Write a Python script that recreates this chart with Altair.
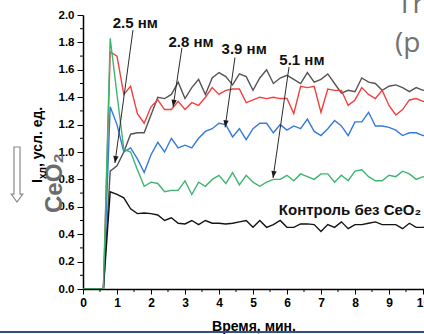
import math
import altair as alt
import pandas as pd

# ---------------- data ----------------
minutes = [0.0, 0.2, 0.4, 0.6, 0.8, 1.0, 1.2, 1.4, 1.6, 1.8,
           2.0, 2.2, 2.4, 2.6, 2.8, 3.0, 3.2, 3.4, 3.6, 3.8,
           4.0, 4.2, 4.4, 4.6, 4.8, 5.0, 5.2, 5.4, 5.6, 5.8,
           6.0, 6.2, 6.4, 6.6, 6.8, 7.0, 7.2, 7.4, 7.6, 7.8,
           8.0, 8.2, 8.4, 8.6, 8.8, 9.0, 9.2, 9.4, 9.6, 9.8,
           10.0, 10.2]

nm25 = [0, 0, 0, 0, 0.86, 0.90, 1.00, 1.13, 1.14, 1.14,
        1.27, 1.40, 1.39, 1.42, 1.51, 1.39, 1.47, 1.53, 1.42, 1.54,
        1.58, 1.55, 1.49, 1.57, 1.55, 1.45, 1.54, 1.60, 1.50, 1.54,
        1.56, 1.53, 1.50, 1.58, 1.51, 1.53, 1.57, 1.50, 1.43, 1.45,
        1.44, 1.54, 1.51, 1.50, 1.45, 1.48, 1.49, 1.47, 1.44, 1.47,
        1.45, 1.46]

nm28 = [0, 0, 0, 0, 1.73, 1.70, 1.42, 1.48, 1.28, 1.21,
        1.33, 1.38, 1.31, 1.31, 1.37, 1.31, 1.36, 1.34, 1.40, 1.47,
        1.42, 1.45, 1.46, 1.46, 1.36, 1.38, 1.40, 1.39, 1.40, 1.39,
        1.39, 1.28, 1.48, 1.47, 1.48, 1.29, 1.46, 1.45, 1.45, 1.34,
        1.38, 1.47, 1.42, 1.39, 1.45, 1.34, 1.27, 1.31, 1.38, 1.39,
        1.37, 1.36]

nm39 = [0, 0, 0, 0, 1.33, 1.20, 1.00, 1.03, 0.95, 0.85,
        0.98, 1.07, 1.00, 1.10, 1.03, 1.05, 1.03, 1.10, 1.15, 1.17,
        1.21, 1.20, 1.11, 1.17, 1.09, 1.17, 1.21, 1.21, 1.14, 1.20,
        1.16, 1.19, 1.17, 1.24, 1.15, 1.12, 1.17, 1.23, 1.19, 1.12,
        1.22, 1.22, 1.29, 1.19, 1.19, 1.18, 1.16, 1.12, 1.14, 1.14,
        1.12, 1.12]

control = [0, 0, 0, 0, 0.71, 0.69, 0.665, 0.585, 0.55, 0.555,
           0.55, 0.54, 0.50, 0.52, 0.48, 0.475, 0.50, 0.47, 0.50, 0.48,
           0.48, 0.475, 0.48, 0.49, 0.50, 0.45, 0.50, 0.45, 0.47, 0.50,
           0.45, 0.45, 0.475, 0.475, 0.47, 0.42, 0.47, 0.45, 0.49, 0.44,
           0.47, 0.47, 0.48, 0.49, 0.47, 0.47, 0.47, 0.44, 0.48, 0.45,
           0.45, 0.46]

nm51 = [0, 0, 0, 0, 1.83, 1.42, 1.02, 1.00, 0.87, 0.75,
        0.78, 0.77, 0.71, 0.72, 0.72, 0.79, 0.69, 0.78, 0.75, 0.80,
        0.83, 0.77, 0.85, 0.76, 0.83, 0.78, 0.75, 0.78, 0.80, 0.80,
        0.83, 0.79, 0.84, 0.82, 0.80, 0.84, 0.84, 0.78, 0.83, 0.79,
        0.86, 0.87, 0.82, 0.79, 0.79, 0.83, 0.82, 0.86, 0.84, 0.80,
        0.82, 0.81]

series_values = [nm25, nm28, nm39, control, nm51]
series_colors = ["#545454", "#f2403f", "#3479dc", "#141414", "#3db56f"]

x_ticks = [0, 1, 2, 3, 4, 5, 6, 7, 8, 9, 10]
x_minor = [0.5, 1.5, 2.5, 3.5, 4.5, 5.5, 6.5, 7.5, 8.5, 9.5]
y_ticks = [0.0, 0.2, 0.4, 0.6, 0.8, 1.0, 1.2, 1.4, 1.6, 1.8, 2.0]
y_minor = [0.1, 0.3, 0.5, 0.7, 0.9, 1.1, 1.3, 1.5, 1.7, 1.9]

label_texts = ["2.5 нм", "2.8 нм", "3.9 нм", "5.1 нм"]
label_t = [1.54, 3.18, 4.74, 6.44]
label_v = [1.94, 1.80, 1.75, 1.67]

arrow_t1 = [1.47, 2.91, 4.47, 6.06]
arrow_v1 = [1.89, 1.76, 1.69, 1.62]
arrow_t2 = [0.94, 2.65, 4.18, 5.59]
arrow_v2 = [0.92, 1.33, 1.18, 0.81]

control_text = ["Контроль без CeO₂"]
control_t = [5.76]
control_v = [0.575]

# ---------------- layout ----------------
W, H = 341, 274
X_MAX = 10.03
FONT = "Liberation Sans"

xs = alt.Scale(domain=[0, X_MAX], nice=False, zero=False)
ys = alt.Scale(domain=[0, 2], nice=False)

x_axis = alt.Axis(values=x_ticks, format="d", grid=False, labelFont=FONT,
                  labelFontWeight="bold", labelFontSize=12, labelColor="#000",
                  labelPadding=3, labelFlush=False, labelOverlap=False,
                  labelBound=False, tickSize=5, tickColor="#000",
                  tickWidth=1, domainColor="#000", domainWidth=1.5,
                  title="Время, мин.", titleFont=FONT, titleFontSize=14,
                  titleFontWeight="bold", titleColor="#000", titleY=41,
                  titleBaseline="alphabetic")
y_axis = alt.Axis(values=y_ticks, format=".1f", grid=False, labelFont=FONT,
                  labelFontWeight="bold", labelFontSize=11.5, labelColor="#000",
                  labelPadding=3, labelFlush=False, labelOverlap=False,
                  labelBound=False, tickSize=6, tickColor="#000",
                  tickWidth=1, domainColor="#000", domainWidth=1.5, title=None)

x_enc = alt.X("t:Q", scale=xs, axis=x_axis)
y_enc = alt.Y("v:Q", scale=ys, axis=y_axis)

layers = []
for vals, col in zip(series_values, series_colors):
    d = pd.DataFrame({"t": minutes, "v": vals})
    layers.append(
        alt.Chart(d).mark_line(strokeWidth=1.4, clip=True, color=col)
        .encode(x=x_enc, y=y_enc)
    )

# minor ticks
xm = pd.DataFrame({"t": x_minor})
layers.append(alt.Chart(xm).mark_rule(color="#000", strokeWidth=1).encode(
    x=x_enc, y=alt.value(H), y2=alt.value(H + 3)))
ym = pd.DataFrame({"v": y_minor})
layers.append(alt.Chart(ym).mark_rule(color="#000", strokeWidth=1).encode(
    y=y_enc, x=alt.value(-3), x2=alt.value(0)))

# arrows
kx = W / X_MAX
ky = H / 2.0
angles = []
for a, b, c, d in zip(arrow_t1, arrow_v1, arrow_t2, arrow_v2):
    dx = (c - a) * kx
    dy = -(d - b) * ky
    angles.append(math.degrees(math.atan2(-dx, dy)) % 360)
arr = pd.DataFrame({"t": arrow_t1, "v": arrow_v1, "t2": arrow_t2, "v2": arrow_v2,
                    "ang": angles})
layers.append(alt.Chart(arr).mark_rule(color="#2a2a2a", strokeWidth=1).encode(
    x=x_enc, y=y_enc, x2="t2:Q", y2="v2:Q"))
arr_end = pd.DataFrame({"t": arrow_t2, "v": arrow_v2, "ang": angles})
layers.append(alt.Chart(arr_end).mark_point(
    shape="M0,0L-0.38,-1L0.38,-1Z", size=196, filled=True, opacity=1,
    color="#1a1a1a", clip=False).encode(
    x=x_enc, y=y_enc, angle=alt.Angle("ang:Q", scale=None)))

# labels
lab = pd.DataFrame({"t": label_t, "v": label_v, "txt": label_texts})
layers.append(alt.Chart(lab).mark_text(font=FONT, fontSize=15, fontWeight="bold",
                                       color="#111", align="center", baseline="middle")
              .encode(x=x_enc, y=y_enc, text="txt:N"))
ctl = pd.DataFrame({"t": control_t, "v": control_v, "txt": control_text})
layers.append(alt.Chart(ctl).mark_text(font=FONT, fontSize=15, fontWeight="bold",
                                       color="#111", align="left", baseline="middle")
              .encode(x=x_enc, y=y_enc, text="txt:N"))

# y axis title built from parts (subscript)
def deco_text(txt, x, y, size, color="#000", weight="bold", angle=270, font=FONT):
    return alt.Chart(pd.DataFrame({"s": [txt]})).mark_text(
        font=font, fontSize=size, fontWeight=weight, color=color, angle=angle,
        align="left", baseline="alphabetic").encode(
        text="s:N", x=alt.value(x), y=alt.value(y))

layers.append(deco_text("CeO₂", -21, 198, 24, color="#6c6c6c"))
layers.append(deco_text("I", -41, 168, 14))
layers.append(deco_text("хл", -37, 164, 10))
layers.append(deco_text(", усл. ед.", -41, 152, 14))
layers.append(deco_text("Tr", 314, -2, 28, color="#727272", weight="normal", angle=0,
                        font="Open Sans"))
layers.append(deco_text("(p", 312, 37, 28, color="#727272", weight="normal", angle=0,
                        font="Open Sans"))

# slide artefacts: hollow down arrow and bottom border
layers.append(alt.Chart(pd.DataFrame({"s": [1]})).mark_point(
    shape="M-0.11,-1L0.11,-1L0.11,0.71L0.21,0.71L0,1L-0.21,0.71L-0.11,0.71Z",
    size=3025, filled=False, opacity=1, stroke="#8a8a8a", strokeWidth=1.2).encode(
    x=alt.value(-66), y=alt.value(159.5)))
layers.append(alt.Chart(pd.DataFrame({"s": [1]})).mark_rule(
    color="#34507d", strokeWidth=2).encode(
    x=alt.value(-83), x2=alt.value(W), y=alt.value(317)))

chart = alt.layer(*layers).properties(
    width=W, height=H,
    autosize=alt.AutoSizeParams(type="none"),
    padding={"left": 83, "top": 15, "right": 0, "bottom": 45},
    background="white",
).configure_view(stroke=None).configure_axis(labelOverlap=False)

chart.save("out.html", embed_options={"renderer": "svg", "actions": False})
